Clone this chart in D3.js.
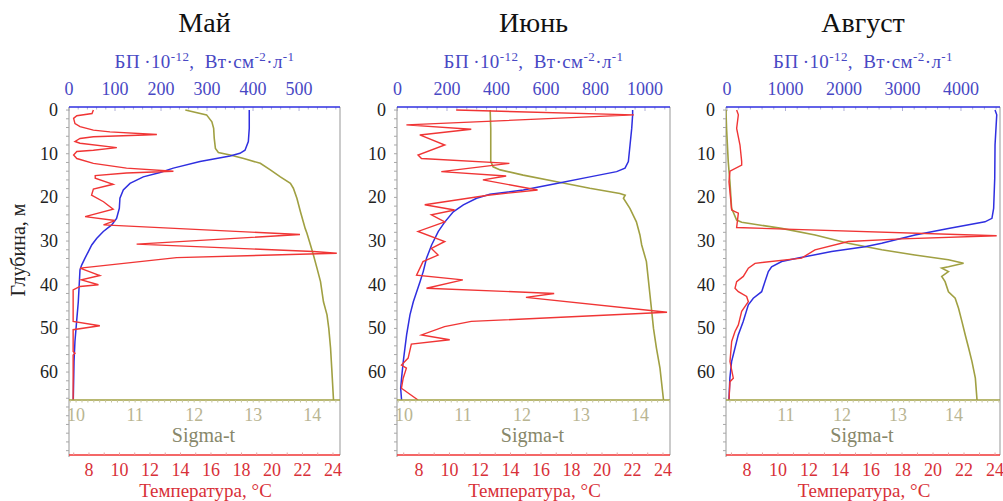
<!DOCTYPE html>
<html>
<head>
<meta charset="utf-8">
<script src="https://cdn.jsdelivr.net/npm/d3@7"></script>
<style>
  body { margin: 0; background: #fff; }
  svg text { font-family: "Liberation Serif", "DejaVu Serif", serif; }
</style>
</head>
<body>
<svg id="chart" width="1003" height="501" font-family="Liberation Serif, DejaVu Serif, serif"></svg>
<script>
// ---- data: [depth, value] ----
var mayBP = [[0,53],[0.8,50],[1.3,17],[1.9,10],[3.1,13],[3.8,24],[4.6,53],[5.0,89],[5.6,191],[5.7,165],[6.1,53],[6.5,24],[7.2,13],[7.6,24],[8.6,104],[9.2,53],[9.5,17],[10.3,10],[11.1,17],[12.2,53],[13.3,125],[14.0,227],[14.4,125],[15.0,57],[15.6,57],[17.0,96],[18.1,53],[19.5,49],[21.0,75],[22.7,96],[24.4,35],[25.3,100],[26.3,75],[28.5,502],[30.7,147],[32.4,531],[32.8,582],[33.8,234],[36.2,24],[37.9,67],[38.9,27],[40.0,64],[40.4,24],[41.2,9],[48.4,9],[49.4,67],[50.3,9],[55.3,9],[55.7,13],[56.1,9],[66.4,9]];
var mayT = [[0,18.51],[4.2,18.51],[7.2,18.45],[9.2,18.23],[9.9,17.9],[10.5,17.25],[11.8,15.28],[13.3,13.53],[14.3,12.66],[15.3,11.56],[16.8,10.69],[18.3,10.25],[20.2,10.03],[22.5,9.99],[24.8,9.81],[26.3,9.49],[27.8,8.94],[29.4,8.50],[30.9,8.18],[32.4,7.96],[33.9,7.74],[35.5,7.52],[36.6,7.41],[39.3,7.37],[43.9,7.30],[48.4,7.19],[53.0,7.08],[57.6,7.02],[66.4,6.97]];
var maySigma = [[0,11.85],[1.1,12.21],[2.7,12.30],[4.2,12.33],[6.5,12.34],[8.8,12.36],[9.7,12.41],[10.3,12.61],[11.1,12.84],[12.2,13.12],[13.7,13.29],[15.3,13.46],[16.8,13.63],[17.9,13.68],[20.2,13.74],[23.3,13.80],[27.1,13.88],[28.2,13.91],[30.9,13.97],[33.2,14.02],[36.2,14.08],[39.3,14.14],[43.9,14.19],[46.9,14.25],[50.0,14.28],[54.5,14.31],[59.1,14.33],[66.4,14.36]];

var juneBP = [[0,237],[1.1,955],[3.4,36],[4.4,298],[5.7,90],[8.0,191],[10.3,83],[11.1,97],[12.2,452],[14.1,177],[15.1,439],[16.0,345],[18.3,566],[19.5,365],[21.7,110],[22.9,231],[24.0,137],[25.6,191],[27.8,83],[30.1,191],[31.7,137],[33.2,164],[34.7,103],[37.8,77],[38.9,264],[40.8,117],[42.0,633],[42.9,519],[46.3,1089],[48.4,298],[49.6,190],[51.5,97],[52.6,211],[53.6,56],[56.8,43],[58.4,16],[59.1,36],[61.4,23],[63.7,16],[66.4,83]];
var juneT = [[0,22.01],[1.1,22.01],[4.2,21.95],[8.0,21.84],[11.8,21.73],[13.3,21.51],[14.1,20.96],[15.3,19.21],[16.8,17.02],[18.3,14.84],[19.3,12.65],[20.2,11.78],[21.7,10.91],[23.3,10.25],[25.6,9.70],[27.8,9.27],[30.9,8.83],[33.9,8.50],[37.0,8.28],[39.3,8.07],[41.6,7.85],[43.9,7.63],[46.9,7.41],[51.5,7.19],[54.5,7.08],[57.6,6.97],[61.4,6.86],[63.7,6.80],[66.4,6.86]];
var juneSigma = [[0,11.46],[4.2,11.47],[11.8,11.47],[13.0,11.51],[13.7,11.63],[14.9,12.02],[16.4,12.59],[17.9,13.15],[19.1,13.66],[19.5,13.75],[20.2,13.72],[22.5,13.83],[25.6,13.94],[28.6,14.00],[30.9,14.03],[34.7,14.11],[38.5,14.14],[42.3,14.17],[46.1,14.20],[50.0,14.23],[54.5,14.28],[59.1,14.34],[66.4,14.40]];

var augBP = [[0,165],[1.1,194],[4.2,165],[8.0,222],[11.8,251],[12.6,251],[14.0,51],[16.4,34],[22.9,80],[23.6,194],[26.9,165],[28.8,4610],[29.5,2986],[30.1,2074],[32.0,1504],[33.9,1276],[35.1,479],[36.2,365],[38.1,279],[39.3,165],[40.8,137],[41.6,194],[42.7,336],[43.9,365],[46.1,251],[49.2,194],[50.7,137],[53.0,80],[57.6,51],[61.4,108],[62.2,51],[66.4,34]];
var augT = [[0,24.0],[1.1,24.11],[8.0,24.0],[15.6,23.98],[22.5,23.91],[24.8,23.80],[25.6,23.35],[27.1,20.99],[28.6,18.84],[30.5,16.69],[31.3,15.61],[32.4,13.46],[33.9,11.31],[34.7,10.24],[35.9,9.59],[37.0,9.38],[39.3,9.16],[41.6,8.95],[43.1,8.41],[44.6,8.09],[48.4,7.76],[51.5,7.44],[54.5,7.23],[57.6,7.01],[61.4,6.90],[66.4,6.84]];
var augSigma = [[0,9.94],[0.4,9.93],[4.2,9.94],[11.8,9.97],[16.4,10.00],[22.5,10.03],[25.2,10.12],[25.7,10.21],[27.1,10.92],[28.6,11.52],[30.5,12.11],[32.0,12.71],[33.2,13.30],[34.3,13.90],[35.1,14.17],[35.9,13.90],[36.2,13.78],[37.0,13.90],[38.1,13.78],[39.3,13.84],[41.6,13.90],[43.1,14.02],[45.4,14.08],[48.4,14.14],[51.5,14.20],[54.5,14.26],[57.6,14.32],[61.4,14.38],[66.4,14.41]];

var months = ["Май", "Июнь", "Август"];
var bpTicks = [[0,100,200,300,400,500],[0,200,400,600,800,1000],[0,1000,2000,3000,4000]];
var sigmaTicks = [[10,11,12,13,14],[10,11,12,13,14],[11,12,13,14]];
var tempTicks = [8,10,12,14,16,18,20,22,24];
var depthTicks = [0,10,20,30,40,50,60];

// ---- layout ----
var top0 = 107, plotBottom = 400, frameBottom = 455;
var FONT = "'Liberation Serif', 'DejaVu Serif', serif";
var panels = [
  { left: 69,  right: 340,  bp: [0, 589],   sig: [9.88, 14.47], tmp: [6.69, 24.46], bpStep: 20,  d: [mayBP, mayT, maySigma] },
  { left: 397, right: 670,  bp: [-2, 1101], sig: [9.88, 14.51], tmp: [6.56, 24.46], bpStep: 40,  d: [juneBP, juneT, juneSigma] },
  { left: 726, right: 1000, bp: [-17, 4667], sig: [9.93, 14.82], tmp: [6.65, 24.32], bpStep: 200, d: [augBP, augT, augSigma] }
];

var cBlue = "#2f2fe0", cRed = "#f03535", cOlive = "#a0a042";
var cBlueText = "#4848c4", cRedText = "#d83038", cSigTick = "#b9b592", cSigTitle = "#87876a";

var svg = d3.select("#chart");
var y = d3.scaleLinear().domain([-0.7, 66.4]).range([top0, plotBottom]);

function txt(sel) { return sel.append("text").style("font-family", FONT); }

txt(svg)
  .attr("transform", "translate(25,250) rotate(-90)")
  .attr("text-anchor", "middle")
  .style("font-size", "20px")
  .attr("fill", "#222")
  .text("Глубина, м");

panels.forEach(function (p, i) {
  var g = svg.append("g");
  var xBP = d3.scaleLinear().domain(p.bp).range([p.left, p.right]);
  var xS = d3.scaleLinear().domain(p.sig).range([p.left, p.right]);
  var xT = d3.scaleLinear().domain(p.tmp).range([p.left, p.right]);
  var mid = (p.left + p.right) / 2;

  // month title
  txt(g).attr("x", mid).attr("y", 32).attr("text-anchor", "middle")
    .style("font-size", "28px").attr("fill", "#111").text(months[i]);

  // top axis title with superscripts
  var t = txt(g).attr("x", mid).attr("y", 68).attr("text-anchor", "middle")
    .style("font-size", "19px").style("letter-spacing", "0.4px").attr("fill", cBlueText);
  t.append("tspan").text("БП\u2009·10");
  t.append("tspan").attr("dy", -7).style("font-size", "13px").text("-12");
  t.append("tspan").attr("dy", 7).text(",\u00a0\u00a0Вт·см");
  t.append("tspan").attr("dy", -7).style("font-size", "13px").text("-2");
  t.append("tspan").attr("dy", 7).text("·л");
  t.append("tspan").attr("dy", -7).style("font-size", "13px").text("-1");

  // top BP axis labels
  g.selectAll(".bpl").data(bpTicks[i]).join("text")
    .style("font-family", FONT)
    .attr("x", function (d) { return xBP(d); }).attr("y", 95)
    .attr("text-anchor", "middle").style("font-size", "18px")
    .attr("fill", cBlueText).text(function (d) { return d; });
  var minorBP = d3.range(0, p.bp[1], p.bpStep);
  g.selectAll(".bpt").data(minorBP).join("line")
    .attr("x1", function (d) { return xBP(d); }).attr("x2", function (d) { return xBP(d); })
    .attr("y1", top0).attr("y2", function (d) { return bpTicks[i].indexOf(d) >= 0 ? top0 + 4 : top0 + 2.5; })
    .attr("stroke", "#b0b0d8").attr("stroke-width", 1);

  // frame sides
  g.append("line").attr("x1", p.left).attr("x2", p.left).attr("y1", top0).attr("y2", frameBottom + 2)
    .attr("stroke", "#a8a8a8").attr("stroke-width", 1.2);
  g.append("line").attr("x1", p.right).attr("x2", p.right).attr("y1", top0).attr("y2", frameBottom)
    .attr("stroke", "#a8a8a8").attr("stroke-width", 1.2);

  // depth minor ticks (left), running down to the temperature axis
  var dTicks = d3.range(0, 79, 2);
  g.selectAll(".dt").data(dTicks).join("line")
    .attr("x1", p.left - 3).attr("x2", p.left)
    .attr("y1", function (d) { return y(d); }).attr("y2", function (d) { return y(d); })
    .attr("stroke", "#a8a8a8").attr("stroke-width", 1);
  g.selectAll(".dl").data(depthTicks).join("text")
    .style("font-family", FONT)
    .attr("x", p.left - 11).attr("y", function (d) { return y(d) + 6; })
    .attr("text-anchor", "end").style("font-size", "18px").attr("fill", "#222")
    .text(function (d) { return d; });

  // curves
  var clipId = "clip" + i;
  svg.append("clipPath").attr("id", clipId).append("rect")
    .attr("x", p.left).attr("y", top0).attr("width", p.right - p.left).attr("height", plotBottom - top0);
  var cg = g.append("g").attr("clip-path", "url(#" + clipId + ")");
  var line = function (xs) {
    return d3.line().x(function (d) { return xs(d[1]); }).y(function (d) { return y(d[0]); });
  };
  cg.append("path").datum(p.d[2]).attr("d", line(xS)).attr("fill", "none")
    .attr("stroke", cOlive).attr("stroke-width", 1.6);
  cg.append("path").datum(p.d[1]).attr("d", line(xT)).attr("fill", "none")
    .attr("stroke", cBlue).attr("stroke-width", 1.5);
  cg.append("path").datum(p.d[0]).attr("d", line(xBP)).attr("fill", "none")
    .attr("stroke", cRed).attr("stroke-width", 1.4);

  // top frame line (BP axis)
  g.append("line").attr("x1", p.left).attr("x2", p.right).attr("y1", top0).attr("y2", top0)
    .attr("stroke", cBlue).attr("stroke-width", 1.5);

  // sigma-t axis
  g.append("line").attr("x1", p.left).attr("x2", p.right).attr("y1", plotBottom).attr("y2", plotBottom)
    .attr("stroke", cOlive).attr("stroke-width", 1.6);
  var minorS = d3.range(Math.ceil(p.sig[0] * 10) / 10, p.sig[1], 0.1);
  g.selectAll(".st").data(minorS).join("line")
    .attr("x1", function (d) { return xS(d); }).attr("x2", function (d) { return xS(d); })
    .attr("y1", plotBottom).attr("y2", plotBottom + 2.5)
    .attr("stroke", "#c4c29a").attr("stroke-width", 1);
  g.selectAll(".sl").data(sigmaTicks[i]).join("text")
    .style("font-family", FONT)
    .attr("x", function (d) { return xS(d); }).attr("y", 421)
    .attr("text-anchor", "middle").style("font-size", "18px").attr("fill", cSigTick)
    .text(function (d) { return d; });
  txt(g).attr("x", xS((p.sig[0] + p.sig[1]) / 2) - 1).attr("y", 442).attr("text-anchor", "middle")
    .style("font-size", "20px").attr("fill", cSigTitle).text("Sigma-t");

  // temperature axis
  g.append("line").attr("x1", p.left).attr("x2", p.right).attr("y1", frameBottom).attr("y2", frameBottom)
    .attr("stroke", cRed).attr("stroke-width", 1.5);
  var minorT = d3.range(7, p.tmp[1], 1);
  g.selectAll(".tt").data(minorT).join("line")
    .attr("x1", function (d) { return xT(d); }).attr("x2", function (d) { return xT(d); })
    .attr("y1", frameBottom).attr("y2", frameBottom - 2.5)
    .attr("stroke", "#e8a0a0").attr("stroke-width", 1);
  g.selectAll(".tl").data(tempTicks).join("text")
    .style("font-family", FONT)
    .attr("x", function (d) { return xT(d); }).attr("y", 476)
    .attr("text-anchor", "middle").style("font-size", "18px").attr("fill", cRedText)
    .text(function (d) { return d; });
  txt(g).attr("x", mid + 1).attr("y", 497).attr("text-anchor", "middle")
    .style("font-size", "19px").attr("fill", cRedText).text("Температура, °С");
});
</script>
</body>
</html>
